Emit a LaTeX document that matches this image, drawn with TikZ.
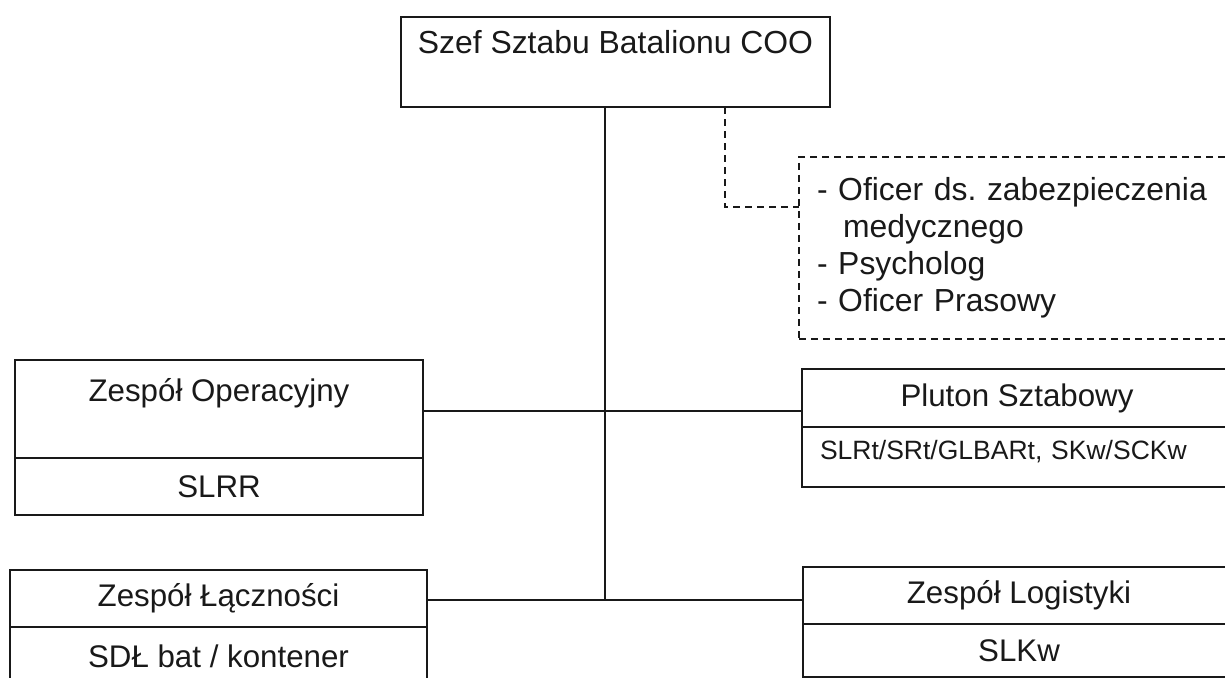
\documentclass[tikz,border=0pt]{standalone}
\usepackage{fontspec}
\setmainfont{Liberation Sans}
\usepackage{tikz}
\usetikzlibrary{positioning,calc}
\frenchspacing
\newcommand{\bigtxt}{\fontsize{31.4}{37}\selectfont}
\newcommand{\headtxt}{\fontsize{32}{37}\selectfont}
\newcommand{\smalltxt}{\fontsize{26.6}{32}\selectfont}
\tikzstyle{unit}=[draw=black!90, rectangle, line width=1.3bp, inner sep=0pt, outer sep=0pt, font=\bigtxt, text=black!90]
\tikzstyle{side unit}=[unit, dash pattern=on 7bp off 5bp, align=left, font=\headtxt]
\tikzstyle{link}=[line width=1.3bp, black!90]
\tikzstyle{dashlink}=[link, dash pattern=on 7bp off 5bp]

\begin{document}
\begin{tikzpicture}[x=1bp,y=-1bp]
\def\hubx{605}
\def\sidex{725}
    \useasboundingbox (0,0) rectangle (1225,678);
    \clip (0,0) rectangle (1225,678);

    % head of the staff
    \node[unit, anchor=north west, minimum width=429bp, text height=37bp, text depth=53bp, font=\headtxt] (chief) at (401,17) {Szef Sztabu Batalionu COO};

    \node[side unit, anchor=north west, text width=404bp, inner xsep=18bp, minimum height=182bp] (extra) at (799,157)
        {- Oficer ds. zabezpieczenia\\\hspace*{26bp}medycznego\\- Psycholog\\- Oficer Prasowy};

    % left column
    \node[unit, anchor=north west, minimum width=408bp, text height=41bp, text depth=57bp] (oper) at (15,360) {Zespół Operacyjny};
    \node[unit, below=0pt of oper, minimum width=408bp, minimum height=57bp] (oper-sub) {SLRR};

    \node[unit, anchor=north west, minimum width=417bp, minimum height=57bp] (lacz) at (10,570) {Zespół Łączności};
    \node[unit, below=0pt of lacz, minimum width=417bp, minimum height=58bp] (lacz-sub) {SDŁ bat / kontener};

    % right column
    \node[unit, anchor=north west, minimum width=430bp, minimum height=58bp] (pluton) at (802,369) {Pluton Sztabowy};
    \node[unit, below=0pt of pluton, text width=394bp, inner xsep=18bp, text height=32.5bp, text depth=27.5bp, font=\smalltxt, align=left] (pluton-sub) {SLRt/SRt/GLBARt, SKw/SCKw};

    \node[unit, anchor=north west, minimum width=432bp, minimum height=57bp] (logist) at (803,567) {Zespół Logistyki};
    \node[unit, below=0pt of logist, minimum width=432bp, minimum height=53bp] (logist-sub) {SLKw};

    \coordinate (hub-top) at (\hubx,411);
    \coordinate (hub-low) at (\hubx,600);
    \coordinate (side-bend) at (\sidex,207);

    \draw[link] (hub-top |- chief.south) -- (hub-low);
    \draw[link] (oper.east |- hub-top) -- (pluton.west |- hub-top);
    \draw[link] (lacz.east |- hub-low) -- (logist.west |- hub-low);
    \draw[dashlink] (side-bend |- chief.south) -- (side-bend) -- (extra.west |- side-bend);

\end{tikzpicture}
\end{document}
